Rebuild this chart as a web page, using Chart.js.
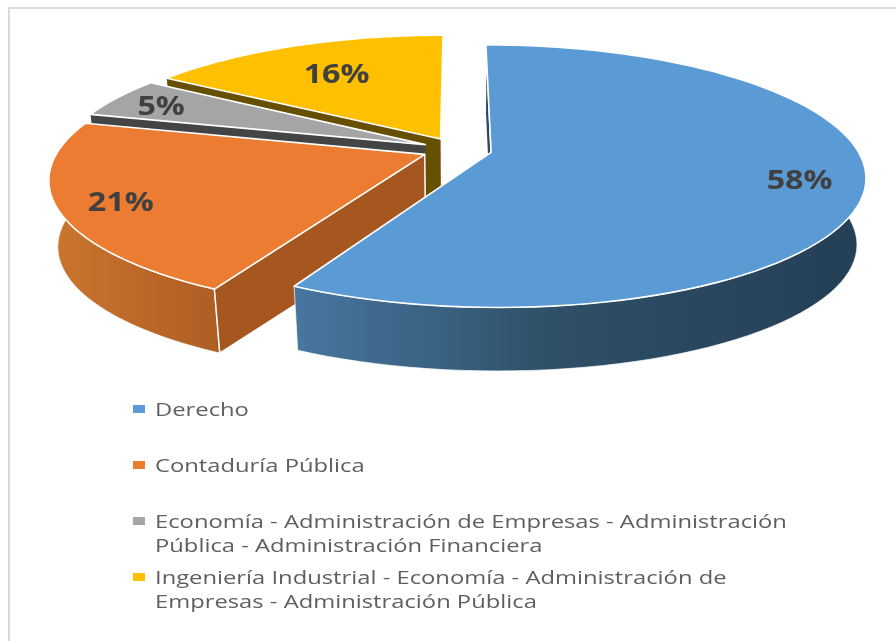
<!DOCTYPE html>
<html>
<head>
<meta charset="utf-8">
<script src="https://cdn.jsdelivr.net/npm/chart.js@4"></script>
<style>
  html, body { margin: 0; padding: 0; background: #fff; }
  #wrap { position: relative; width: 896px; height: 641px; overflow: hidden; filter: blur(0.4px); }
  #frame { position: absolute; left: 8px; top: 7px; width: 900px; height: 650px; border-left: 2.5px solid #d9d9d9; border-top: 2.5px solid #d9d9d9; }
  canvas { position: absolute; left: 0; top: 0; }
  #legend { position: absolute; left: 0; top: 0; font-family: "Open Sans", sans-serif; font-size: 18px; line-height: 24px; color: #5f5f5f; }
  .key { position: absolute; left: 133px; width: 12px; height: 8px; }
  .txt { position: absolute; left: 155px; white-space: nowrap; transform-origin: 0 0; transform: scaleX(1.32); }
</style>
</head>
<body>
<div id="wrap">
  <div id="frame"></div>
  <canvas id="pie" width="896" height="641"></canvas>
  <div id="legend"></div>
</div>
<script>
let categories = [
    ['Derecho'],
    ['Contaduría Pública'],
    ['Economía - Administración de Empresas - Administración', 'Pública - Administración Financiera'],
    ['Ingeniería Industrial - Economía - Administración de', 'Empresas - Administración Pública']
]
let shares = [57.7, 21.4, 5.1, 15.8]
let sliceColors = ['#5b9bd5', '#eb7c31', '#a5a5a5', '#ffc000']
let faceColors = ['#2b4a66', '#a5571f', '#444444', '#665000']
let rimStops = [
    ['#47769f', '#2e5068', '#243f56'],
    ['#c9752f', '#bd6a2a', '#ae5e24']
]
let legendTops = [397, 453, 509, 565]

// view of the tilted pie
let view = { rx: 366, ry: 126, persp: 0.18, depth: 67, shrink: 0.022 }
let labelAt = [0.83, 0.84, 0.85, 0.68]

function project(arc, px, py, z) {
    let u = (px - arc.x) / arc.outerRadius
    let v = (py - arc.y) / arc.outerRadius
    let f = (1 - view.shrink * z) / (1 - view.persp * v)
    return [arc.x + u * view.rx * f, arc.y + v * view.ry * f + view.depth * z]
}

function apex(arc) {
    let mid = (arc.startAngle + arc.endAngle) / 2
    let off = arc.options.offset / 4
    return [arc.x + Math.cos(mid) * off, arc.y + Math.sin(mid) * off]
}

function edgePoint(arc, angle, frac, z) {
    let a = apex(arc)
    let r = arc.outerRadius * frac
    return project(arc, a[0] + Math.cos(angle) * r, a[1] + Math.sin(angle) * r, z)
}

function rimPoints(arc, z) {
    let pts = []
    for (let i = 0; i <= 90; i++) {
        pts.push(edgePoint(arc, arc.startAngle + (arc.endAngle - arc.startAngle) * i / 90, 1, z))
    }
    return pts
}

function fillPoly(ctx, pts, fill, stroke, lineWidth) {
    ctx.beginPath()
    pts.forEach((p, i) => i ? ctx.lineTo(p[0], p[1]) : ctx.moveTo(p[0], p[1]))
    ctx.closePath()
    ctx.fillStyle = fill
    ctx.fill()
    if (stroke) {
        ctx.strokeStyle = stroke
        ctx.lineWidth = lineWidth
        ctx.lineJoin = 'round'
        ctx.stroke()
    }
}

let pie3d = {
    id: 'pie3d',
    beforeDatasetsDraw(chart) {
        let ctx = chart.ctx
        let arcs = chart.getDatasetMeta(0).data
        // back slices first, the big one comes on top
        for (let i = arcs.length - 1; i >= 0; i--) {
            let arc = arcs[i]
            let top = edgePoint(arc, 0, 0, 0)
            let low = edgePoint(arc, 0, 0, 1)
            let upper = rimPoints(arc, 0)
            // only the two front slices show their outer wall
            if (rimStops[i]) {
                let lower = rimPoints(arc, 1)
                let xs = lower.map(p => p[0])
                let grad = ctx.createLinearGradient(Math.min(...xs), 0, Math.max(...xs), 0)
                grad.addColorStop(0, rimStops[i][0])
                grad.addColorStop(0.45, rimStops[i][1])
                grad.addColorStop(1, rimStops[i][2])
                fillPoly(ctx, upper.concat(lower.slice().reverse()), grad, 'rgba(255,255,255,0.7)', 1)
            }

            let start = [top, edgePoint(arc, arc.startAngle, 1, 0), edgePoint(arc, arc.startAngle, 1, 1), low]
            fillPoly(ctx, start, faceColors[i], rimStops[i] ? '#ffffff' : null, 1.5)

            fillPoly(ctx, [top].concat(upper), sliceColors[i], '#ffffff', 1.6)
        }
        return false
    },
    afterDraw(chart) {
        let ctx = chart.ctx
        chart.getDatasetMeta(0).data.forEach((arc, i) => {
            let mid = (arc.startAngle + arc.endAngle) / 2
            let p = edgePoint(arc, mid, labelAt[i], 0)
            ctx.save()
            ctx.translate(p[0], p[1] + 3)
            ctx.scale(1.24, 1)
            ctx.font = 'bold 26px "Open Sans", sans-serif'
            ctx.fillStyle = '#404040'
            ctx.textAlign = 'center'
            ctx.textBaseline = 'middle'
            ctx.fillText(Math.round(shares[i]) + '%', 0, 0)
            ctx.restore()
        })
    }
}

new Chart(document.getElementById('pie'), {
    type: 'pie',
    data: {
        labels: categories.map(c => c.join(' ')),
        datasets: [{
            data: shares,
            backgroundColor: sliceColors,
            borderColor: '#ffffff',
            borderWidth: 0,
            offset: 48
        }]
    },
    options: {
        responsive: false,
        animation: false,
        layout: { padding: { left: 18, right: 0, top: 0, bottom: 342 } },
        plugins: { legend: { display: false }, tooltip: { enabled: false } }
    },
    plugins: [pie3d]
})

let legend = document.getElementById('legend')
categories.forEach((lines, i) => {
    legend.insertAdjacentHTML('beforeend', `<div class="key" style="top:${legendTops[i] + 8}px;background:${sliceColors[i]}"></div>`)
    lines.forEach((line, j) => {
        legend.insertAdjacentHTML('beforeend', `<div class="txt" style="top:${legendTops[i] + j * 24}px">${line}</div>`)
    })
})
</script>
</body>
</html>
